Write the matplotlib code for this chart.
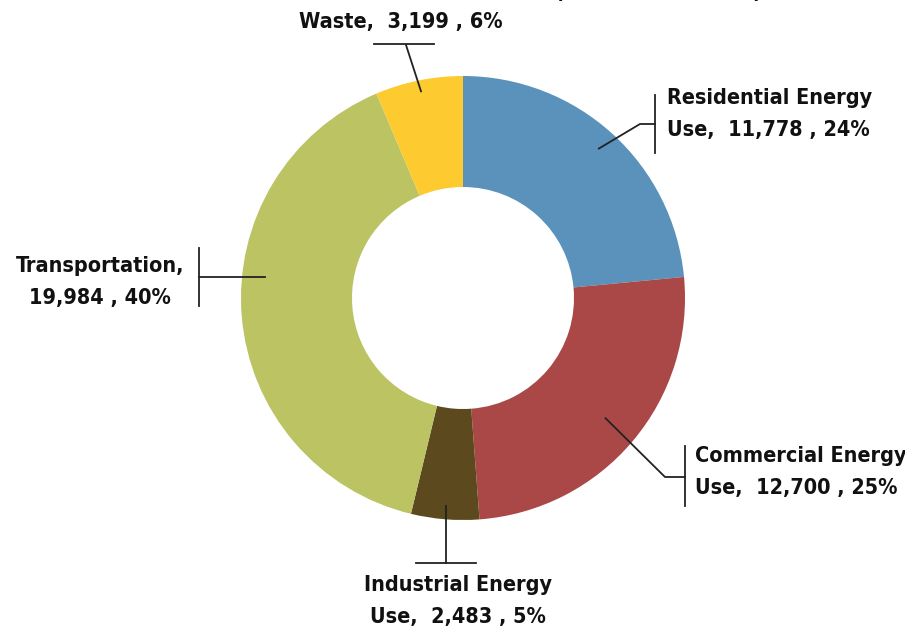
import numpy as np
import matplotlib.pyplot as plt
from matplotlib import font_manager as fm

# data
labels = ["Residential Energy\nUse,  11,778 , 24%",
          "Commercial Energy\nUse,  12,700 , 25%",
          "Industrial Energy\nUse,  2,483 , 5%",
          "Transportation,\n19,984 , 40%",
          "Waste,  3,199 , 6%"]
values = [11778, 12700, 2483, 19984, 3199]
colors = ["#5B92BC", "#A94846", "#5C4A1E", "#BBC363", "#FDCA2F"]

# look for a narrow bold face, the original uses a condensed font
fpath = None
for f in fm.fontManager.ttflist:
    n = f.name.lower()
    narrow = ('narrow' in n or 'condensed' in n or
              (isinstance(f.stretch, str) and 'condensed' in f.stretch) or
              (isinstance(f.stretch, int) and f.stretch < 500) or
              'condensed' in f.fname.lower() or 'narrow' in f.fname.lower())
    w = f.weight if isinstance(f.weight, int) else (700 if 'bold' in str(f.weight) else 400)
    if narrow and w >= 600 and 'italic' not in f.fname.lower() and f.style == 'normal':
        fpath = f.fname
        break
if fpath:
    fp = fm.FontProperties(fname=fpath)
else:
    fp = fm.FontProperties(family=['Liberation Sans', 'DejaVu Sans'], weight='bold')

W, H = 905, 630
fig = plt.figure(figsize=(W / 100, H / 100), dpi=100)
ax = fig.add_axes([0, 0, 1, 1])

cx, cy, R = 463, H - 298, 222
wedges, _ = ax.pie(values, colors=colors, startangle=90, counterclock=False,
                   radius=R, center=(cx, cy), wedgeprops=dict(width=R * 0.5, linewidth=0))
ax.set_xlim(0, W)
ax.set_ylim(0, H)
ax.set_aspect('equal')
ax.axis('off')

# fit the font size so "Residential Energy" is about 206 px wide, as in the original
rend = fig.canvas.get_renderer()
t = ax.text(0, 0, "Residential Energy", fontproperties=fp, fontsize=20)
tw = t.get_window_extent(rend).width
t.remove()
fs = min(22, 20 * 206 / tw)

# pick the line spacing that gives a line pitch of about 32 px
t1 = ax.text(0, 0, "Ag", fontproperties=fp, fontsize=fs, linespacing=1.0)
t2 = ax.text(0, 0, "Ag\nAg", fontproperties=fp, fontsize=fs, linespacing=1.0)
pitch = t2.get_window_extent(rend).height - t1.get_window_extent(rend).height
t1.remove()
t2.remove()
ls = 35 / pitch

font = dict(fontproperties=fp, fontsize=fs, color='#111111', linespacing=ls)
lc = dict(color='#222222', lw=1.3)


def anchor(w, rf):
    a = np.radians((w.theta1 + w.theta2) / 2)
    return cx + R * rf * np.cos(a), cy + R * rf * np.sin(a)


def Y(p):
    return H - p


# Residential
x0, y0 = anchor(wedges[0], 0.91)
ax.plot([x0, 640, 655], [y0, Y(124), Y(124)], **lc)
ax.plot([655, 655], [Y(95), Y(153)], **lc)
ax.text(667, Y(114), labels[0], ha='left', va='center', **font)

# Commercial
x0, y0 = anchor(wedges[1], 0.84)
ax.plot([x0, 665, 685], [y0, Y(477), Y(477)], **lc)
ax.plot([685, 685], [Y(446), Y(506)], **lc)
ax.text(695, Y(472), labels[1], ha='left', va='center', **font)

# Industrial
x0, y0 = anchor(wedges[2], 0.94)
ax.plot([x0, x0], [y0, Y(563)], **lc)
ax.plot([416, 476], [Y(563), Y(563)], **lc)
ax.text(458, Y(601), labels[2], ha='center', va='center', **font)

# Transportation
x0 = cx - R * 0.89
ax.plot([x0, 199], [Y(277), Y(277)], **lc)
ax.plot([199, 199], [Y(248), Y(306)], **lc)
ax.text(100, Y(282), labels[3], ha='center', va='center', **font)

# Waste
x0, y0 = anchor(wedges[4], 0.95)
ax.plot([x0, 406], [y0, Y(45)], **lc)
ax.plot([374, 434], [Y(44), Y(44)], **lc)
ax.text(401, Y(22), labels[4], ha='center', va='center', **font)

# cut-off subtitle at the top edge
ax.text(658, Y(-2), "(Metric Tons CO2e)", ha='center', va='baseline', **font)

fig.savefig("out.png", dpi=100)
